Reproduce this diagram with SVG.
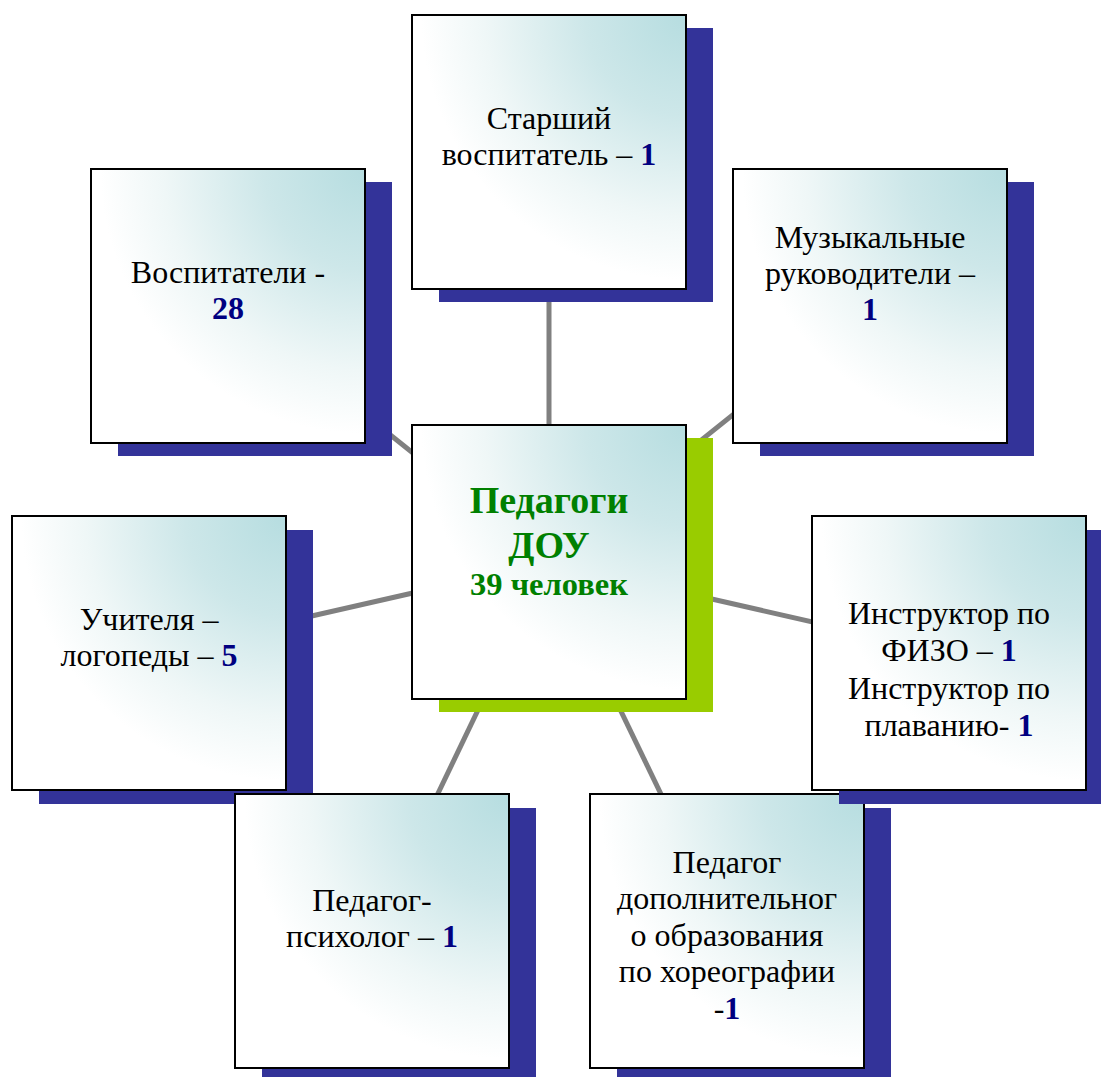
<svg xmlns="http://www.w3.org/2000/svg" width="1101" height="1077" viewBox="0 0 1101 1077">
<defs>
<radialGradient id="fill" cx="1" cy="0" r="1.05" fx="1" fy="0" gradientUnits="objectBoundingBox">
<stop offset="0" stop-color="#b6dde0"/>
<stop offset="0.35" stop-color="#cde7e9"/>
<stop offset="0.7" stop-color="#eff7f7"/>
<stop offset="0.92" stop-color="#ffffff"/>
</radialGradient>
<style>
.box{fill:url(#fill);stroke:#000;stroke-width:2}
.sh{fill:#333399}
.shg{fill:#99cc00}
.conn line{stroke:#808080;stroke-width:5}
.t{font-family:"Liberation Serif","Times New Roman",serif;font-size:32px;fill:#000;text-anchor:middle}
.n{font-weight:bold;fill:#000080}
.c{font-family:"Liberation Serif","Times New Roman",serif;font-weight:bold;fill:#008000;text-anchor:middle}
</style>
</defs>
<rect width="1101" height="1077" fill="#fff"/>
<g id="connectors" class="conn">
<line x1="549" y1="562" x2="549" y2="152"/>
<line x1="549" y1="562" x2="228" y2="305"/>
<line x1="549" y1="562" x2="870" y2="305"/>
<line x1="549" y1="562" x2="149" y2="653"/>
<line x1="549" y1="562" x2="949" y2="653"/>
<line x1="549" y1="562" x2="372" y2="931"/>
<line x1="549" y1="562" x2="727" y2="931"/>
</g>
<g id="node-vospitateli">
<rect class="sh" x="118" y="182" width="274" height="274"/>
<rect class="box" x="91" y="169" width="274" height="274"/>
<text class="t" x="228" y="283">Воспитатели -</text>
<text class="t n" x="228" y="319">28</text>
</g>
<g id="node-starshiy">
<rect class="sh" x="439" y="28" width="274" height="274"/>
<rect class="box" x="412" y="15" width="274" height="274"/>
<text class="t" x="549" y="129">Старший</text>
<text class="t" x="549" y="165">воспитатель – <tspan class="n">1</tspan></text>
</g>
<g id="node-muz">
<rect class="sh" x="760" y="182" width="274" height="274"/>
<rect class="box" x="733" y="169" width="274" height="274"/>
<text class="t" x="870" y="248">Музыкальные</text>
<text class="t" x="870" y="284">руководители –</text>
<text class="t n" x="870" y="320">1</text>
</g>
<g id="node-center">
<rect class="shg" x="439" y="438" width="274" height="274"/>
<rect class="box" x="412" y="425" width="274" height="274"/>
<text class="c" x="549" y="513" font-size="38">Педагоги</text>
<text class="c" x="549" y="558" font-size="38">ДОУ</text>
<text class="c" x="549" y="595" font-size="32.5">39 человек</text>
</g>
<g id="node-logoped">
<rect class="sh" x="39" y="530" width="274" height="274"/>
<rect class="box" x="12" y="516" width="274" height="274"/>
<text class="t" x="149" y="630">Учителя –</text>
<text class="t" x="149" y="666">логопеды – <tspan class="n">5</tspan></text>
</g>
<g id="node-psiholog">
<rect class="sh" x="262" y="808" width="274" height="274"/>
<rect class="box" x="235" y="794" width="274" height="274"/>
<text class="t" x="372" y="911">Педагог-</text>
<text class="t" x="372" y="947">психолог – <tspan class="n">1</tspan></text>
</g>
<g id="node-dop">
<rect class="sh" x="617" y="808" width="274" height="274"/>
<rect class="box" x="590" y="794" width="274" height="274"/>
<text class="t" x="727" y="873">Педагог</text>
<text class="t" x="727" y="909">дополнительног</text>
<text class="t" x="727" y="946">о образования</text>
<text class="t" x="727" y="982">по хореографии</text>
<text class="t" x="727" y="1019">-<tspan class="n">1</tspan></text>
</g>
<g id="node-fizo">
<rect class="sh" x="839" y="530" width="274" height="274"/>
<rect class="box" x="812" y="516" width="274" height="274"/>
<text class="t" x="949" y="624">Инструктор по</text>
<text class="t" x="949" y="661">ФИЗО – <tspan class="n">1</tspan></text>
<text class="t" x="949" y="699">Инструктор по</text>
<text class="t" x="949" y="736">плаванию- <tspan class="n">1</tspan></text>
</g>
</svg>
